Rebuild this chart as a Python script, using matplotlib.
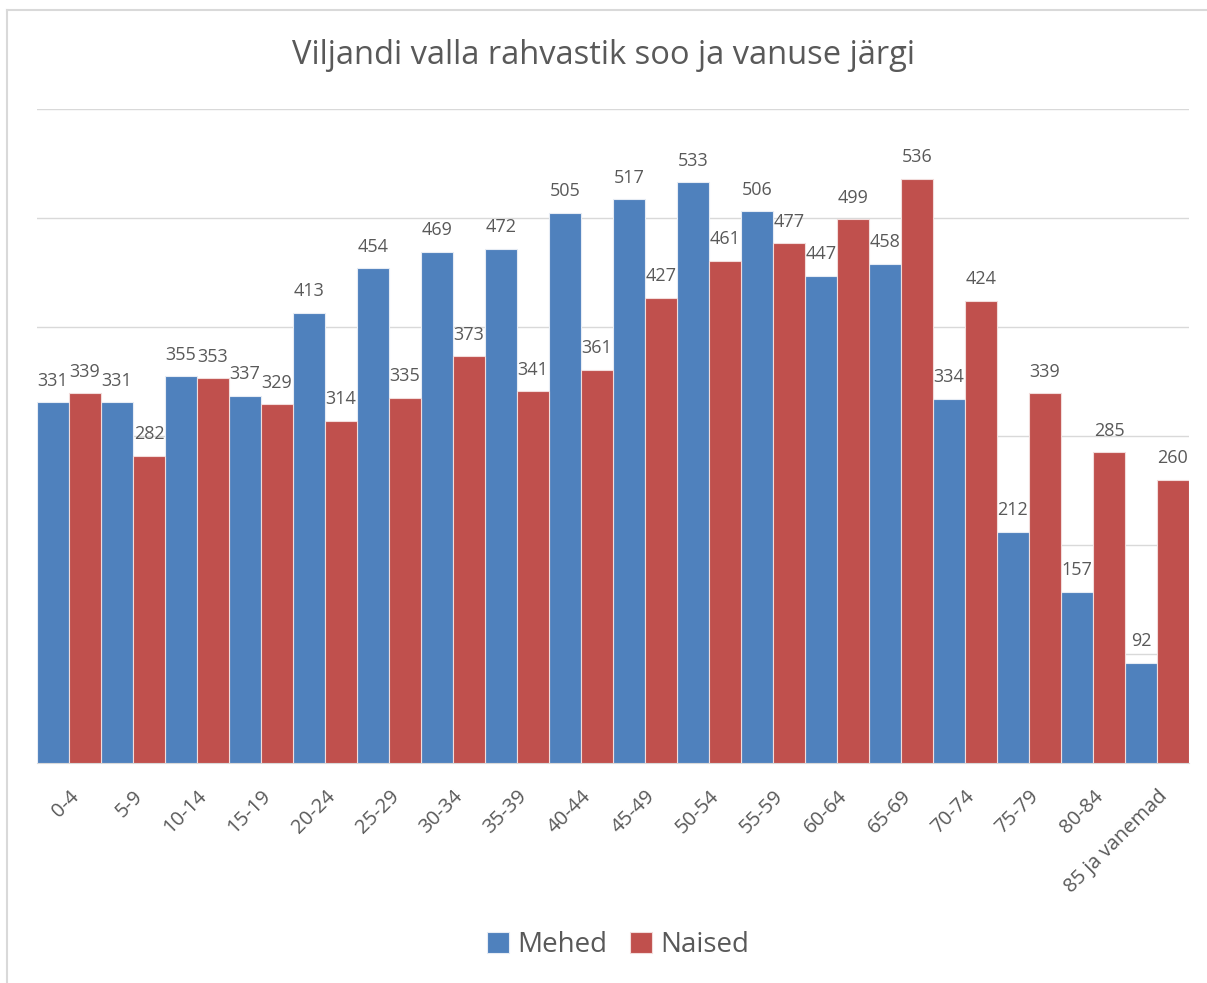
import matplotlib
matplotlib.use("Agg")
import matplotlib.pyplot as plt
import numpy as np
from matplotlib.lines import Line2D

categories = ["0-4", "5-9", "10-14", "15-19", "20-24", "25-29", "30-34", "35-39",
              "40-44", "45-49", "50-54", "55-59", "60-64", "65-69", "70-74", "75-79",
              "80-84", "85 ja vanemad"]
mehed = [331, 331, 355, 337, 413, 454, 469, 472, 505, 517, 533, 506, 447, 458, 334, 212, 157, 92]
naised = [339, 282, 353, 329, 314, 335, 373, 341, 361, 427, 461, 477, 499, 536, 424, 339, 285, 260]

plt.rcParams['font.family'] = ['Open Sans', 'DejaVu Sans']
blue = "#4F81BD"
red = "#C0504D"
txt = "#595959"

fig = plt.figure(figsize=(12.07, 9.83), dpi=100)
ax = fig.add_axes([37/1207, 220/983, 1152/1207, 654/983])

x = np.arange(len(categories))
w = 0.5
b1 = ax.bar(x - w/2, mehed, w, color=blue, edgecolor="#E6ECF4", linewidth=0.8, label="Mehed", zorder=3)
b2 = ax.bar(x + w/2, naised, w, color=red, edgecolor="#F2DCDB", linewidth=0.8, label="Naised", zorder=3)

for bars, vals in ((b1, mehed), (b2, naised)):
    for r, v in zip(bars, vals):
        ax.annotate(str(v), (r.get_x() + r.get_width()/2, v), xytext=(0, 9),
                    textcoords="offset points", ha="center", va="bottom",
                    fontsize=13, color=txt, zorder=4)

ax.set_xlim(-0.5, len(categories) - 0.5)
ax.set_ylim(0, 600)
ax.set_yticks(np.arange(0, 601, 100))
ax.yaxis.grid(True, color="#D9D9D9", linewidth=1, zorder=0)
ax.set_axisbelow(True)
ax.tick_params(axis="y", left=False, labelleft=False)
ax.tick_params(axis="x", length=0, pad=17)
ax.set_xticks(x)
ax.set_xticklabels(categories, rotation=45, ha="right", rotation_mode="anchor",
                   fontsize=14.5, color=txt)
for s in ("top", "right", "left"):
    ax.spines[s].set_visible(False)
ax.spines["bottom"].set_color("#D9D9D9")

fig.text(0.5, 1 - 55/983, "Viljandi valla rahvastik soo ja vanuse järgi",
         ha="center", va="center", fontsize=23.5, color=txt)

leg = fig.legend(handles=[b1, b2], labels=["Mehed", "Naised"], loc="center",
                 bbox_to_anchor=(618/1207, 1 - 945/983), ncol=2, frameon=False,
                 fontsize=20, handlelength=0.8, handleheight=0.8, handletextpad=0.3,
                 columnspacing=0.8)
for t in leg.get_texts():
    t.set_color(txt)

fig.add_artist(Line2D([7/1207, 1], [1 - 10/983, 1 - 10/983], transform=fig.transFigure,
                      color="#D9D9D9", linewidth=1.5))
fig.add_artist(Line2D([7/1207, 7/1207], [0, 1 - 10/983], transform=fig.transFigure,
                      color="#D9D9D9", linewidth=1.5))

fig.savefig("out.png", dpi=100, facecolor="white")
